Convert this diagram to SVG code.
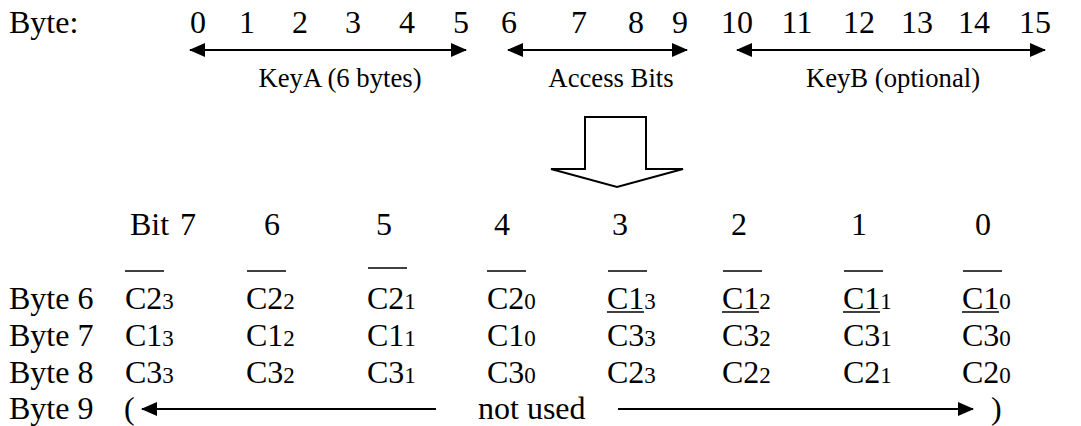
<svg xmlns="http://www.w3.org/2000/svg" width="1081" height="426" viewBox="0 0 1081 426" font-family="'Liberation Serif', Tinos, 'Times New Roman', Times, 'Nimbus Roman', 'Noto Serif', 'DejaVu Serif', serif">
<defs>
<style>
text{font-family:'Liberation Serif',Tinos,'Times New Roman',Times,'Nimbus Roman','Noto Serif','DejaVu Serif',serif;fill:#000}
.m{font-size:32px}
.s{font-size:26.7px}
.sub{font-size:23px}
.c{text-anchor:middle}
.ln{stroke:#000;stroke-width:2.2;fill:none}
.bar{stroke:#000;stroke-width:1.6}
</style>
<marker id="ah" viewBox="0 0 16 14" refX="15" refY="7" markerWidth="16" markerHeight="14" markerUnits="userSpaceOnUse" orient="auto-start-reverse">
<path d="M0,0 L16,7 L0,14 Z" fill="#000"/>
</marker>
</defs>
<rect width="1081" height="426" fill="#fff"/>

<g id="byte-header">
<text class="m" x="9" y="33">Byte:</text>
<text class="m c" x="198" y="33">0</text>
<text class="m c" x="247" y="33">1</text>
<text class="m c" x="300" y="33">2</text>
<text class="m c" x="353" y="33">3</text>
<text class="m c" x="407" y="33">4</text>
<text class="m c" x="461" y="33">5</text>
<text class="m c" x="509" y="33">6</text>
<text class="m c" x="579" y="33">7</text>
<text class="m c" x="636" y="33">8</text>
<text class="m c" x="680" y="33">9</text>
<text class="m c" x="737" y="33">10</text>
<text class="m c" x="797" y="33">11</text>
<text class="m c" x="859" y="33">12</text>
<text class="m c" x="917" y="33">13</text>
<text class="m c" x="974" y="33">14</text>
<text class="m c" x="1035" y="33">15</text>
</g>

<g id="connectors">
<line class="ln" x1="190" y1="50" x2="466" y2="50" marker-start="url(#ah)" marker-end="url(#ah)"/>
<line class="ln" x1="508" y1="50" x2="687" y2="50" marker-start="url(#ah)" marker-end="url(#ah)"/>
<line class="ln" x1="737" y1="50" x2="1045" y2="50" marker-start="url(#ah)" marker-end="url(#ah)"/>
<line class="ln" x1="142" y1="409" x2="436" y2="409" marker-start="url(#ah)"/>
<line class="ln" x1="618" y1="409" x2="973" y2="409" marker-end="url(#ah)"/>
</g>

<g id="label-keya"><text class="s c" x="340" y="87">KeyA (6 bytes)</text></g>
<g id="label-access"><text class="s c" x="611" y="87">Access Bits</text></g>
<g id="label-keyb"><text class="s c" x="893" y="87">KeyB (optional)</text></g>

<g id="block-arrow">
<path d="M585,117 H646 V169 H683 L617,187 L551,169 H585 Z" fill="#fff" stroke="#000" stroke-width="2" stroke-linejoin="miter"/>
</g>

<g id="bit-header">
<text class="m" x="130" y="235">Bit</text>
<text class="m c" x="188" y="235">7</text>
<text class="m c" x="272" y="235">6</text>
<text class="m c" x="384" y="235">5</text>
<text class="m c" x="502" y="235">4</text>
<text class="m c" x="620" y="235">3</text>
<text class="m c" x="739" y="235">2</text>
<text class="m c" x="859" y="235">1</text>
<text class="m c" x="983" y="235">0</text>
</g>

<g id="overlines">
<line class="bar" x1="125" y1="271" x2="164" y2="271"/>
<line class="bar" x1="247" y1="271" x2="286" y2="271"/>
<line class="bar" x1="368" y1="268" x2="407" y2="268"/>
<line class="bar" x1="487" y1="271" x2="526" y2="271"/>
<line class="bar" x1="608" y1="271" x2="647" y2="271"/>
<line class="bar" x1="723" y1="271" x2="762" y2="271"/>
<line class="bar" x1="844" y1="271" x2="883" y2="271"/>
<line class="bar" x1="963" y1="271" x2="1002" y2="271"/>
</g>

<g id="row-byte6">
<text class="m" x="9" y="309">Byte 6</text>
<text class="m" x="125" y="309">C2<tspan class="sub">3</tspan></text>
<text class="m" x="246" y="309">C2<tspan class="sub">2</tspan></text>
<text class="m" x="367" y="309">C2<tspan class="sub">1</tspan></text>
<text class="m" x="487" y="309">C2<tspan class="sub">0</tspan></text>
<text class="m" x="607" y="309">C1<tspan class="sub">3</tspan></text>
<text class="m" x="722" y="309">C1<tspan class="sub">2</tspan></text>
<text class="m" x="843" y="309">C1<tspan class="sub">1</tspan></text>
<text class="m" x="962" y="309">C1<tspan class="sub">0</tspan></text>
<line class="bar" x1="607" y1="312" x2="644" y2="312"/>
<line class="bar" x1="722" y1="312" x2="759" y2="312"/>
<line class="bar" x1="843" y1="312" x2="880" y2="312"/>
<line class="bar" x1="962" y1="312" x2="999" y2="312"/>
</g>

<g id="row-byte7">
<text class="m" x="9" y="346">Byte 7</text>
<text class="m" x="125" y="346">C1<tspan class="sub">3</tspan></text>
<text class="m" x="246" y="346">C1<tspan class="sub">2</tspan></text>
<text class="m" x="367" y="346">C1<tspan class="sub">1</tspan></text>
<text class="m" x="487" y="346">C1<tspan class="sub">0</tspan></text>
<text class="m" x="607" y="346">C3<tspan class="sub">3</tspan></text>
<text class="m" x="722" y="346">C3<tspan class="sub">2</tspan></text>
<text class="m" x="843" y="346">C3<tspan class="sub">1</tspan></text>
<text class="m" x="962" y="346">C3<tspan class="sub">0</tspan></text>
</g>

<g id="row-byte8">
<text class="m" x="9" y="383">Byte 8</text>
<text class="m" x="125" y="383">C3<tspan class="sub">3</tspan></text>
<text class="m" x="246" y="383">C3<tspan class="sub">2</tspan></text>
<text class="m" x="367" y="383">C3<tspan class="sub">1</tspan></text>
<text class="m" x="487" y="383">C3<tspan class="sub">0</tspan></text>
<text class="m" x="607" y="383">C2<tspan class="sub">3</tspan></text>
<text class="m" x="722" y="383">C2<tspan class="sub">2</tspan></text>
<text class="m" x="843" y="383">C2<tspan class="sub">1</tspan></text>
<text class="m" x="962" y="383">C2<tspan class="sub">0</tspan></text>
</g>

<g id="row-byte9">
<text class="m" x="9" y="419">Byte 9</text>
<text class="m" x="124" y="419">(</text>
<text class="m" x="478" y="419">not used</text>
<text class="m" x="991" y="419">)</text>
</g>
</svg>
